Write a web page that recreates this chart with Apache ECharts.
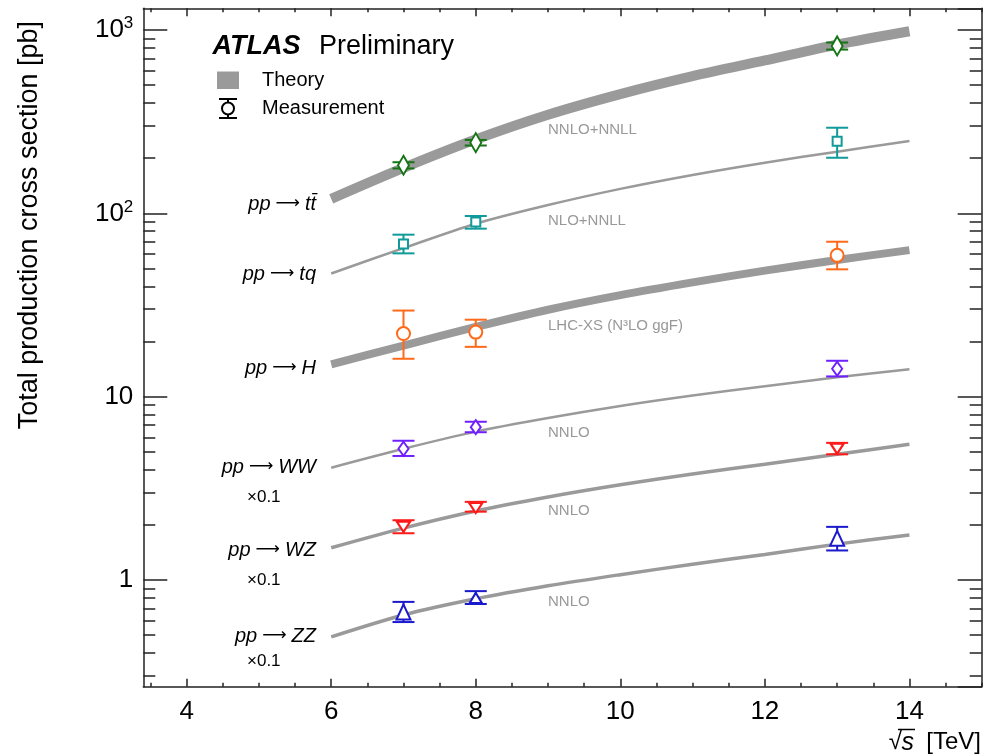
<!DOCTYPE html>
<html><head><meta charset="utf-8">
<script src="https://cdn.jsdelivr.net/npm/echarts@6/dist/echarts.min.js"></script>
<style>html,body{margin:0;padding:0;background:#fff}#c{width:985px;height:756px}</style>
</head><body><div id="c"></div>
<script>
// ---------------- data ----------------
const energies = [6, 7, 8, 9, 10, 11, 12, 13, 14];
const ttbarTheory = [120, 177, 253, 345, 447, 560, 682, 832, 984];
const tqTheory    = [47, 64.6, 87.8, 111, 136, 162, 189, 217, 248];
const hTheory     = [15.0, 19.0, 24.0, 29.8, 35.8, 42.0, 48.7, 55.7, 63.0];
const wwTheory    = [4.1, 5.2, 6.45, 7.65, 8.9, 10.15, 11.4, 12.75, 14.1];   // x0.1
const wzTheory    = [1.5, 1.92, 2.38, 2.84, 3.31, 3.79, 4.28, 4.85, 5.5];   // x0.1
const zzTheory    = [0.49, 0.645, 0.79, 0.93, 1.07, 1.22, 1.38, 1.57, 1.76]; // x0.1

const measEnergies = [7, 8, 13];
const ttbarVal = [182.9, 242.9, 818];
const ttbarErrLo = [7.1, 8.5, 36];
const ttbarErrHi = [7.1, 8.5, 36];
const tqVal = [68, 89.6, 247];
const tqErrLo = [7.5, 7.1, 46];
const tqErrHi = [8.5, 7.1, 46];
const hVal = [22.1, 22.5, 59.0];
const hErrLo = [6.0, 3.8, 9.5];
const hErrHi = [7.4, 3.8, 11.0];
const wwVal = [5.2, 6.82, 14.2];
const wwErrLo = [0.45, 0.42, 1.3];
const wwErrHi = [0.55, 0.48, 1.5];
const wzVal = [1.95, 2.47, 5.2];
const wzErrLo = [0.15, 0.11, 0.35];
const wzErrHi = [0.17, 0.2, 0.4];
const zzVal = [0.67, 0.80, 1.69];
const zzErrLo = [0.08, 0.06, 0.24];
const zzErrHi = [0.09, 0.07, 0.26];

const xTickValues = [4, 6, 8, 10, 12, 14];
const xTickLabels = ['4', '6', '8', '10', '12', '14'];
const yTickValues = [1, 10, 100, 1000];
const yTickLabels = ['1', '10', '10^2', '10^3'];

const X_MIN = 3.4, X_MAX = 15, Y_MIN = 0.262, Y_MAX = 1313;

// ---------------- helpers ----------------
const AX = '#222';
const FONT = '"Liberation Sans", Arial, Helvetica, sans-serif';
const BAND = '#9a9a9a';

const xMinor = [];
for (let v = 3.5; v <= X_MAX; v += 0.5) if (xTickValues.indexOf(v) < 0) xMinor.push(v);
const yMinorLog = [];
[0.1, 1, 10, 100].forEach(d => { for (let k = 2; k <= 9; k++) { const v = k * d; if (v >= Y_MIN && v <= Y_MAX) yMinorLog.push(Math.log10(v)); } });

function theoryLine(vals, width) {
  return { type: 'line', xAxisIndex: 0, yAxisIndex: 0, z: 2, smooth: 0.3, showSymbol: false, silent: true,
    data: energies.map((e, i) => [e, vals[i]]),
    lineStyle: { color: BAND, width: width }, itemStyle: { color: BAND } };
}
function errBars(vals, lo, hi, color) {
  return { type: 'custom', xAxisIndex: 0, yAxisIndex: 0, z: 3, silent: true,
    data: measEnergies.map((e, i) => [e, vals[i] - lo[i], vals[i] + hi[i]]),
    encode: { x: 0, y: [1, 2] },
    renderItem: (params, api) => {
      const x = api.value(0);
      const p1 = api.coord([x, api.value(1)]);
      const p2 = api.coord([x, api.value(2)]);
      const hw = 11;
      const st = { stroke: color, lineWidth: 2 };
      return { type: 'group', children: [
        { type: 'line', shape: { x1: p1[0], y1: p1[1], x2: p2[0], y2: p2[1] }, style: st },
        { type: 'line', shape: { x1: p1[0] - hw, y1: p1[1], x2: p1[0] + hw, y2: p1[1] }, style: st },
        { type: 'line', shape: { x1: p2[0] - hw, y1: p2[1], x2: p2[0] + hw, y2: p2[1] }, style: st }
      ]};
    } };
}
function markers(vals, color, symbol, size, rotate) {
  return { type: 'scatter', xAxisIndex: 0, yAxisIndex: 0, z: 4, silent: true,
    data: measEnergies.map((e, i) => [e, vals[i]]),
    symbol: symbol, symbolSize: size, symbolRotate: rotate || 0,
    itemStyle: { color: '#fff', borderColor: color, borderWidth: 2, opacity: 1 } };
}

const C_TT = '#157515', C_TQ = '#109a9a', C_H = '#ff6a1a', C_WW = '#7020ff', C_WZ = '#ff1a1a', C_ZZ = '#1a1acc';

const series = [
  theoryLine(ttbarTheory, 10), theoryLine(tqTheory, 2.5), theoryLine(hTheory, 8),
  theoryLine(wwTheory, 2.5), theoryLine(wzTheory, 3.5), theoryLine(zzTheory, 3.5),
  errBars(ttbarVal, ttbarErrLo, ttbarErrHi, C_TT), markers(ttbarVal, C_TT, 'diamond', [11, 19]),
  errBars(tqVal, tqErrLo, tqErrHi, C_TQ), markers(tqVal, C_TQ, 'rect', [9, 9]),
  errBars(hVal, hErrLo, hErrHi, C_H), markers(hVal, C_H, 'circle', 13),
  errBars(wwVal, wwErrLo, wwErrHi, C_WW), markers(wwVal, C_WW, 'diamond', [10, 14]),
  errBars(wzVal, wzErrLo, wzErrHi, C_WZ), markers(wzVal, C_WZ, 'triangle', [13, 10], 180),
  errBars(zzVal, zzErrLo, zzErrHi, C_ZZ), markers(zzVal, C_ZZ, 'triangle', (v, p) => p.dataIndex === 1 ? [12, 10] : [14, 15])
];

function yLabel(v) {
  const i = yTickValues.findIndex(t => Math.abs(Math.log10(v) - Math.log10(t)) < 1e-6);
  if (i < 0) return '';
  const p = yTickLabels[i].split('^');
  return p.length > 1 ? '{b|' + p[0] + '}{s|' + p[1] + '}' : '{b|' + p[0] + '}';
}

const lineSt = { color: AX, width: 1.5 };
const lmin = Math.log10(Y_MIN), lmax = Math.log10(Y_MAX);

const yAxis = [
  { type: 'log', logBase: 10, min: Y_MIN, max: Y_MAX, position: 'left',
    axisLine: { show: true, onZero: false, lineStyle: lineSt },
    axisTick: { show: true, inside: true, length: 24, lineStyle: lineSt },
    axisLabel: { show: true, margin: 10, formatter: yLabel, showMinLabel: false, showMaxLabel: false,
      rich: { b: { fontSize: 26, lineHeight: 30, color: '#000', fontFamily: FONT },
              s: { fontSize: 17, lineHeight: 17, verticalAlign: 'top', color: '#000', fontFamily: FONT } } },
    splitLine: { show: false }, minorTick: { show: false } },
  { type: 'log', logBase: 10, min: Y_MIN, max: Y_MAX, position: 'right',
    axisLine: { show: true, onZero: false, lineStyle: lineSt },
    axisTick: { show: true, inside: true, length: 24, lineStyle: lineSt },
    axisLabel: { show: false }, splitLine: { show: false } },
  { type: 'value', min: lmin, max: lmax, position: 'left',
    axisLine: { show: false, onZero: false },
    axisTick: { show: true, inside: true, length: 12, customValues: yMinorLog, lineStyle: lineSt },
    axisLabel: { show: false }, splitLine: { show: false } },
  { type: 'value', min: lmin, max: lmax, position: 'right',
    axisLine: { show: false, onZero: false },
    axisTick: { show: true, inside: true, length: 12, customValues: yMinorLog, lineStyle: lineSt },
    axisLabel: { show: false }, splitLine: { show: false } }
];

const xAxis = [
  { type: 'value', min: X_MIN, max: X_MAX, position: 'bottom',
    axisLine: { show: true, onZero: false, lineStyle: lineSt },
    axisTick: { show: true, inside: true, length: 8, customValues: xTickValues, lineStyle: lineSt },
    axisLabel: { show: true, customValues: xTickValues, margin: 12, fontSize: 26, color: '#000', fontFamily: FONT,
      formatter: v => xTickLabels[xTickValues.indexOf(v)] || '' },
    splitLine: { show: false } },
  { type: 'value', min: X_MIN, max: X_MAX, position: 'bottom',
    axisLine: { show: false, onZero: false },
    axisTick: { show: true, inside: true, length: 4, customValues: xMinor, lineStyle: lineSt },
    axisLabel: { show: false }, splitLine: { show: false } },
  { type: 'value', min: X_MIN, max: X_MAX, position: 'top',
    axisLine: { show: true, onZero: false, lineStyle: lineSt },
    axisTick: { show: true, inside: true, length: 8, customValues: xTickValues, lineStyle: lineSt },
    axisLabel: { show: false }, splitLine: { show: false } },
  { type: 'value', min: X_MIN, max: X_MAX, position: 'top',
    axisLine: { show: false, onZero: false },
    axisTick: { show: true, inside: true, length: 4, customValues: xMinor, lineStyle: lineSt },
    axisLabel: { show: false }, splitLine: { show: false } }
];

function txt(text, x, y, size, opts) {
  opts = opts || {};
  return { type: 'text', x: x, y: y, z: 10, rotation: opts.rotation || 0,
    style: { text: text, font: (opts.style || '') + ' ' + size + 'px ' + FONT, fill: opts.color || '#000',
      textAlign: opts.align || 'left', textVerticalAlign: 'middle', align: opts.align || 'left', verticalAlign: 'middle' } };
}
const procRich = {
  i: { fontStyle: 'italic', fontSize: 20, fontFamily: FONT, fill: '#000', color: '#000' },
  a: { fontSize: 17, fontFamily: '"DejaVu Sans", sans-serif', fill: '#000', color: '#000', padding: [0, 5, 0, 5] }
};
function proc(lhs, rhs, y) {
  return { type: 'text', x: 316, y: y, z: 10,
    style: { text: '{i|' + lhs + '}{a|⟶}{i|' + rhs + '}', rich: procRich, fill: '#000',
      textAlign: 'right', textVerticalAlign: 'middle', align: 'right', verticalAlign: 'middle' } };
}

const graphic = [
  txt('ATLAS', 212.5, 46.5, 27, { style: 'italic bold' }),
  txt('Preliminary', 319, 46.5, 27),
  { type: 'rect', shape: { x: 217, y: 71.5, width: 22, height: 17.5 }, style: { fill: BAND }, z: 10 },
  txt('Theory', 262, 80.5, 20),
  { type: 'group', z: 10, children: [
    { type: 'line', shape: { x1: 228, y1: 99, x2: 228, y2: 118 }, style: { stroke: '#000', lineWidth: 2 } },
    { type: 'line', shape: { x1: 219, y1: 99, x2: 237, y2: 99 }, style: { stroke: '#000', lineWidth: 2 } },
    { type: 'line', shape: { x1: 219, y1: 118, x2: 237, y2: 118 }, style: { stroke: '#000', lineWidth: 2 } },
    { type: 'circle', shape: { cx: 228, cy: 108.5, r: 6 }, style: { fill: '#fff', stroke: '#000', lineWidth: 2 } }
  ]},
  txt('Measurement', 262, 108.5, 20),
  txt('NNLO+NNLL', 548, 130, 15, { color: '#999' }),
  txt('NLO+NNLL', 548, 221, 15, { color: '#999' }),
  txt('LHC-XS (N³LO ggF)', 548, 326, 15, { color: '#999' }),
  txt('NNLO', 548, 433, 15, { color: '#999' }),
  txt('NNLO', 548, 511, 15, { color: '#999' }),
  txt('NNLO', 548, 602, 15, { color: '#999' }),
  proc('pp', 'tt\u0304', 204),
  proc('pp', 'tq', 274),
  proc('pp', 'H', 368),
  proc('pp', 'WW', 467),
  txt('×0.1', 247, 497, 17),
  proc('pp', 'WZ', 550),
  txt('×0.1', 247, 580, 17),
  proc('pp', 'ZZ', 636),
  txt('×0.1', 247, 661, 17),
  txt('Total production cross section [pb]', 30, 21, 27, { align: 'right', rotation: Math.PI / 2 }),
  txt('[TeV]', 981, 742, 24, { align: 'right' }),
  txt('s', 914, 743, 25, { align: 'right', style: 'italic' }),
  txt('√', 902, 742, 24, { align: 'right' }),
  { type: 'line', z: 10, shape: { x1: 898, y1: 729.5, x2: 915, y2: 729.5 }, style: { stroke: '#000', lineWidth: 1.5 } }
];

const chart = echarts.init(document.getElementById('c'), null, { renderer: 'canvas' });
chart.setOption({
  animation: false,
  backgroundColor: '#fff',
  textStyle: { fontFamily: FONT },
  grid: { left: 143.3, right: 3.3, top: 8.3, bottom: 69.3, containLabel: false, outerBoundsMode: 'none' },
  xAxis: xAxis,
  yAxis: yAxis,
  series: series,
  graphic: graphic
});
</script></body></html>
